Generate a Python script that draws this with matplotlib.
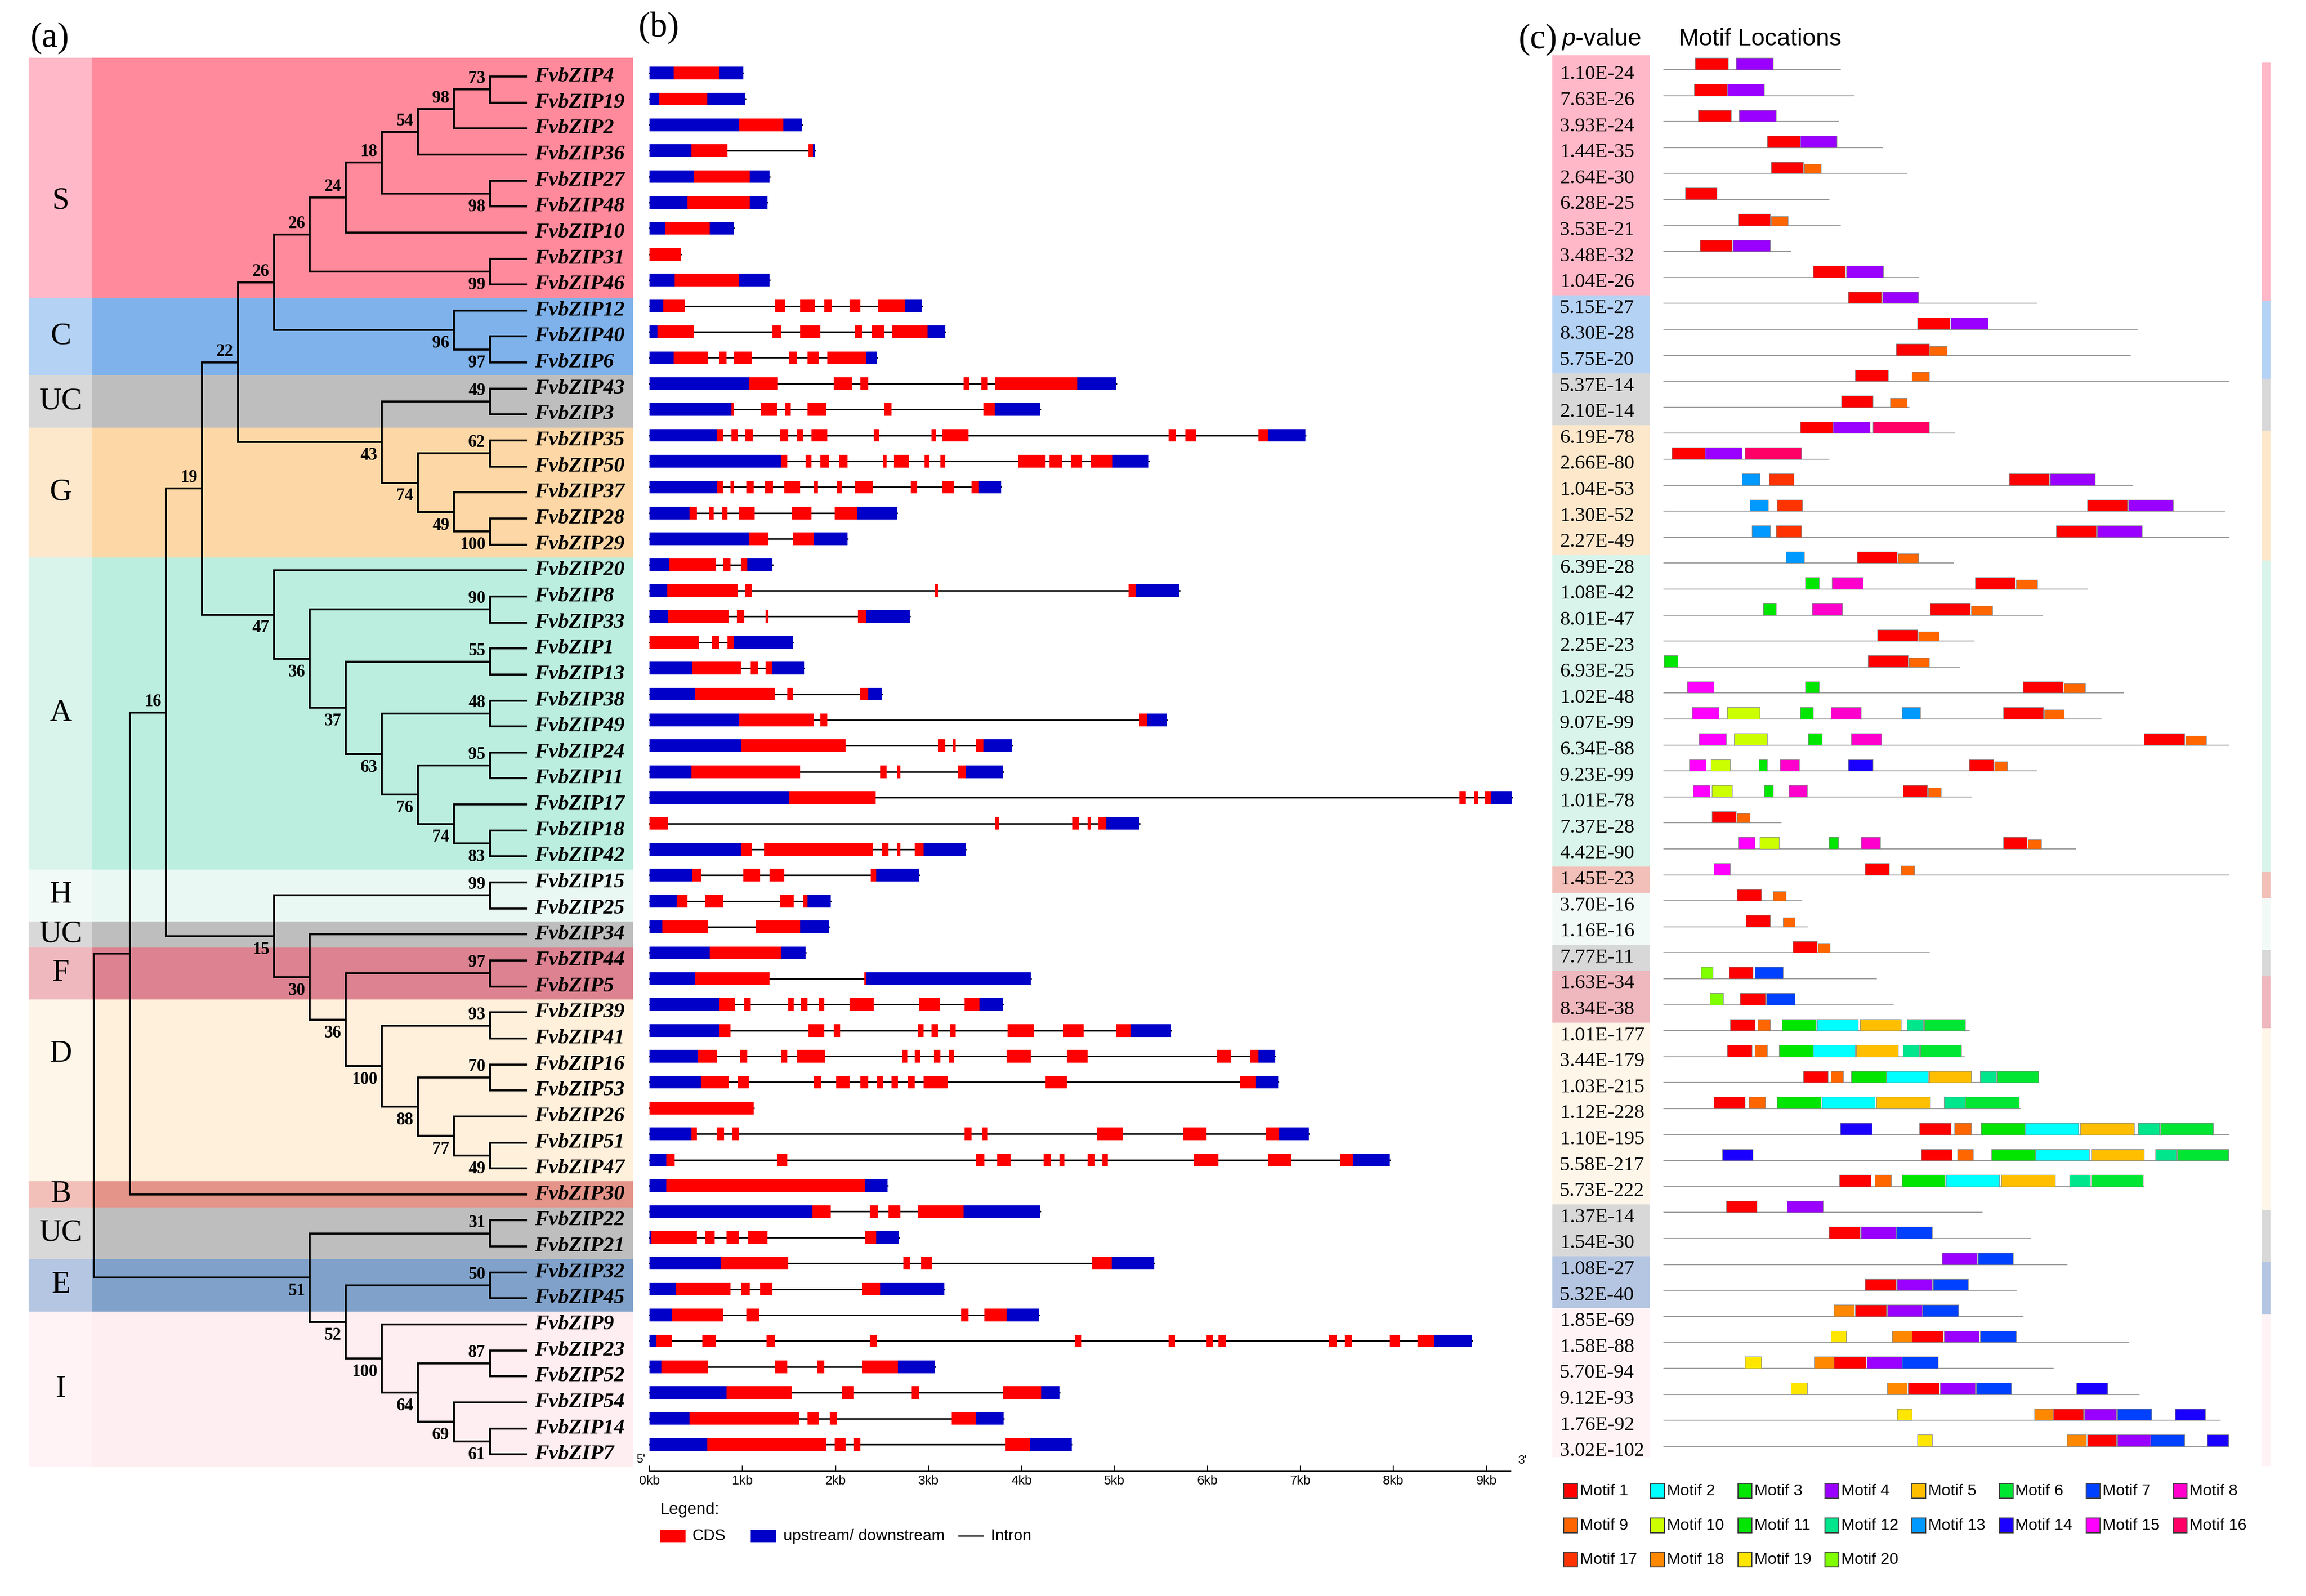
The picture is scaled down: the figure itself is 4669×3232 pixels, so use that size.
import matplotlib
matplotlib.use('Agg')
import matplotlib.pyplot as plt
from matplotlib.patches import Rectangle
from matplotlib import font_manager

# ---------------------------------------------------------------
# data
# ---------------------------------------------------------------
leaf_order = [
    'FvbZIP4', 'FvbZIP19', 'FvbZIP2', 'FvbZIP36', 'FvbZIP27', 'FvbZIP48',
    'FvbZIP10', 'FvbZIP31', 'FvbZIP46', 'FvbZIP12', 'FvbZIP40', 'FvbZIP6',
    'FvbZIP43', 'FvbZIP3', 'FvbZIP35', 'FvbZIP50', 'FvbZIP37', 'FvbZIP28',
    'FvbZIP29', 'FvbZIP20', 'FvbZIP8', 'FvbZIP33', 'FvbZIP1', 'FvbZIP13',
    'FvbZIP38', 'FvbZIP49', 'FvbZIP24', 'FvbZIP11', 'FvbZIP17', 'FvbZIP18',
    'FvbZIP42', 'FvbZIP15', 'FvbZIP25', 'FvbZIP34', 'FvbZIP44', 'FvbZIP5',
    'FvbZIP39', 'FvbZIP41', 'FvbZIP16', 'FvbZIP53', 'FvbZIP26', 'FvbZIP51',
    'FvbZIP47', 'FvbZIP30', 'FvbZIP22', 'FvbZIP21', 'FvbZIP32', 'FvbZIP45',
    'FvbZIP9', 'FvbZIP23', 'FvbZIP52', 'FvbZIP54', 'FvbZIP14', 'FvbZIP7',
]

# subfamily bands of the tree: (name, first row, last row)
tree_groups = [('S', 0, 8), ('C', 9, 11), ('UC', 12, 13), ('G', 14, 18),
               ('A', 19, 30), ('H', 31, 32), ('UC', 33, 33), ('F', 34, 35),
               ('D', 36, 42), ('B', 43, 43), ('UC', 44, 45), ('E', 46, 47),
               ('I', 48, 53)]


def clade(bs, *kids):
    return (bs, list(kids))


# tree topology with bootstrap values
n73 = clade(73, 'FvbZIP4', 'FvbZIP19')
n98a = clade(98, n73, 'FvbZIP2')
n54 = clade(54, n98a, 'FvbZIP36')
n98b = clade(98, 'FvbZIP27', 'FvbZIP48')
n18 = clade(18, n54, n98b)
n24 = clade(24, n18, 'FvbZIP10')
n99a = clade(99, 'FvbZIP31', 'FvbZIP46')
n26a = clade(26, n24, n99a)
n97a = clade(97, 'FvbZIP40', 'FvbZIP6')
n96 = clade(96, 'FvbZIP12', n97a)
n26b = clade(26, n26a, n96)
n49a = clade(49, 'FvbZIP43', 'FvbZIP3')
n62 = clade(62, 'FvbZIP35', 'FvbZIP50')
n100a = clade(100, 'FvbZIP28', 'FvbZIP29')
n49b = clade(49, 'FvbZIP37', n100a)
n74a = clade(74, n62, n49b)
n43 = clade(43, n49a, n74a)
n22 = clade(22, n26b, n43)
n83 = clade(83, 'FvbZIP18', 'FvbZIP42')
n74b = clade(74, 'FvbZIP17', n83)
n95 = clade(95, 'FvbZIP24', 'FvbZIP11')
n76 = clade(76, n95, n74b)
n48 = clade(48, 'FvbZIP38', 'FvbZIP49')
n63 = clade(63, n48, n76)
n55 = clade(55, 'FvbZIP1', 'FvbZIP13')
n37 = clade(37, n55, n63)
n90 = clade(90, 'FvbZIP8', 'FvbZIP33')
n36a = clade(36, n90, n37)
n47 = clade(47, 'FvbZIP20', n36a)
n19 = clade(19, n22, n47)
n99b = clade(99, 'FvbZIP15', 'FvbZIP25')
n97b = clade(97, 'FvbZIP44', 'FvbZIP5')
n93 = clade(93, 'FvbZIP39', 'FvbZIP41')
n70 = clade(70, 'FvbZIP16', 'FvbZIP53')
n49c = clade(49, 'FvbZIP51', 'FvbZIP47')
n77 = clade(77, 'FvbZIP26', n49c)
n88 = clade(88, n70, n77)
n100b = clade(100, n93, n88)
n36b = clade(36, n97b, n100b)
n30 = clade(30, 'FvbZIP34', n36b)
n15 = clade(15, n99b, n30)
n16 = clade(16, n19, n15)
nx = clade(None, n16, 'FvbZIP30')
n31 = clade(31, 'FvbZIP22', 'FvbZIP21')
n50 = clade(50, 'FvbZIP32', 'FvbZIP45')
n61 = clade(61, 'FvbZIP14', 'FvbZIP7')
n69 = clade(69, 'FvbZIP54', n61)
n87 = clade(87, 'FvbZIP23', 'FvbZIP52')
n64 = clade(64, n87, n69)
n100c = clade(100, 'FvbZIP9', n64)
n52 = clade(52, n50, n100c)
n51 = clade(51, n31, n52)
tree = clade(None, nx, n51)

# gene structures in kb: (start, end, kind) kind u = UTR, c = CDS
gene_structs = [
    [(0, .26, 'u'), (.26, .75, 'c'), (.75, 1.01, 'u')],
    [(0, .10, 'u'), (.10, .62, 'c'), (.62, 1.03, 'u')],
    [(0, .96, 'u'), (.96, 1.44, 'c'), (1.44, 1.64, 'u')],
    [(0, .45, 'u'), (.45, .84, 'c'), (1.71, 1.76, 'c'), (1.76, 1.78, 'u')],
    [(0, .48, 'u'), (.48, 1.08, 'c'), (1.08, 1.29, 'u')],
    [(0, .41, 'u'), (.41, 1.08, 'c'), (1.08, 1.27, 'u')],
    [(0, .17, 'u'), (.17, .65, 'c'), (.65, .91, 'u')],
    [(0, .34, 'c')],
    [(0, .27, 'u'), (.27, .96, 'c'), (.96, 1.29, 'u')],
    [(0, .15, 'u'), (.15, .38, 'c'), (1.35, 1.46, 'c'), (1.62, 1.78, 'c'),
     (1.88, 1.96, 'c'), (2.15, 2.27, 'c'), (2.46, 2.75, 'c'), (2.75, 2.93, 'u')],
    [(0, .085, 'u'), (.085, .48, 'c'), (1.32, 1.41, 'c'), (1.62, 1.84, 'c'),
     (2.21, 2.29, 'c'), (2.39, 2.52, 'c'), (2.61, 2.99, 'c'), (2.99, 3.18, 'u')],
    [(0, .26, 'u'), (.26, .63, 'c'), (.75, .83, 'c'), (.91, 1.10, 'c'),
     (1.50, 1.58, 'c'), (1.70, 1.82, 'c'), (1.91, 2.33, 'c'), (2.33, 2.45, 'u')],
    [(0, 1.07, 'u'), (1.07, 1.38, 'c'), (1.98, 2.18, 'c'), (2.27, 2.35, 'c'),
     (3.38, 3.44, 'c'), (3.57, 3.64, 'c'), (3.72, 4.60, 'c'), (4.60, 5.02, 'u')],
    [(0, .88, 'u'), (.88, .91, 'c'), (1.20, 1.37, 'c'), (1.46, 1.52, 'c'),
     (1.70, 1.90, 'c'), (2.52, 2.60, 'c'), (3.59, 3.71, 'c'), (3.71, 4.20, 'u')],
    [(0, .72, 'u'), (.72, .79, 'c'), (.88, .95, 'c'), (1.03, 1.11, 'c'),
     (1.40, 1.49, 'c'), (1.59, 1.65, 'c'), (1.74, 1.91, 'c'), (2.41, 2.47, 'c'),
     (3.03, 3.08, 'c'), (3.15, 3.43, 'c'), (5.58, 5.66, 'c'), (5.76, 5.88, 'c'),
     (6.55, 6.65, 'c'), (6.65, 7.05, 'u')],
    [(0, 1.41, 'u'), (1.41, 1.48, 'c'), (1.68, 1.74, 'c'), (1.84, 1.93, 'c'),
     (2.04, 2.13, 'c'), (2.51, 2.55, 'c'), (2.63, 2.79, 'c'), (2.96, 3.01, 'c'),
     (3.13, 3.18, 'c'), (3.96, 4.26, 'c'), (4.30, 4.44, 'c'), (4.53, 4.65, 'c'),
     (4.75, 4.98, 'c'), (4.98, 5.37, 'u')],
    [(0, .73, 'u'), (.73, .79, 'c'), (.87, .91, 'c'), (1.04, 1.12, 'c'),
     (1.24, 1.33, 'c'), (1.45, 1.62, 'c'), (1.77, 1.81, 'c'), (2.02, 2.07, 'c'),
     (2.21, 2.40, 'c'), (2.81, 2.88, 'c'), (3.15, 3.27, 'c'), (3.46, 3.54, 'c'),
     (3.54, 3.78, 'u')],
    [(0, .43, 'u'), (.43, .51, 'c'), (.64, .69, 'c'), (.78, .84, 'c'),
     (.96, 1.13, 'c'), (1.53, 1.74, 'c'), (1.99, 2.23, 'c'), (2.23, 2.66, 'u')],
    [(0, 1.07, 'u'), (1.07, 1.28, 'c'), (1.54, 1.77, 'c'), (1.77, 2.13, 'u')],
    [(0, .21, 'u'), (.21, .71, 'c'), (.79, .87, 'c'), (.98, 1.05, 'c'), (1.05, 1.32, 'u')],
    [(0, .19, 'u'), (.19, .95, 'c'), (1.03, 1.10, 'c'), (3.07, 3.10, 'c'),
     (5.15, 5.23, 'c'), (5.23, 5.70, 'u')],
    [(0, .20, 'u'), (.20, .85, 'c'), (.94, 1.02, 'c'), (1.25, 1.28, 'c'),
     (2.24, 2.33, 'c'), (2.33, 2.80, 'u')],
    [(0, .53, 'c'), (.67, .75, 'c'), (.84, .91, 'c'), (.91, 1.54, 'u')],
    [(0, .46, 'u'), (.46, .98, 'c'), (1.09, 1.17, 'c'), (1.25, 1.32, 'c'), (1.32, 1.66, 'u')],
    [(0, .49, 'u'), (.49, 1.35, 'c'), (1.48, 1.54, 'c'), (2.26, 2.35, 'c'), (2.35, 2.50, 'u')],
    [(0, .96, 'u'), (.96, 1.77, 'c'), (1.84, 1.91, 'c'), (5.27, 5.35, 'c'), (5.35, 5.56, 'u')],
    [(0, .99, 'u'), (.99, 2.11, 'c'), (3.10, 3.18, 'c'), (3.26, 3.29, 'c'),
     (3.51, 3.59, 'c'), (3.59, 3.90, 'u')],
    [(0, .45, 'u'), (.45, 1.62, 'c'), (2.48, 2.55, 'c'), (2.66, 2.70, 'c'),
     (3.32, 3.40, 'c'), (3.40, 3.80, 'u')],
    [(0, 1.50, 'u'), (1.50, 2.43, 'c'), (8.71, 8.78, 'c'), (8.87, 8.91, 'c'),
     (8.98, 9.05, 'c'), (9.05, 9.27, 'u')],
    [(0, .20, 'c'), (3.72, 3.76, 'c'), (4.55, 4.62, 'c'), (4.71, 4.74, 'c'),
     (4.83, 4.91, 'c'), (4.91, 5.27, 'u')],
    [(0, .98, 'u'), (.98, 1.10, 'c'), (1.23, 2.40, 'c'), (2.50, 2.57, 'c'),
     (2.66, 2.70, 'c'), (2.85, 2.95, 'c'), (2.95, 3.40, 'u')],
    [(0, .46, 'u'), (.46, .56, 'c'), (1.01, 1.19, 'c'), (1.29, 1.45, 'c'),
     (2.38, 2.44, 'c'), (2.44, 2.90, 'u')],
    [(0, .29, 'u'), (.29, .41, 'c'), (.60, .79, 'c'), (1.40, 1.55, 'c'),
     (1.65, 1.70, 'c'), (1.70, 1.95, 'u')],
    [(0, .14, 'u'), (.14, .63, 'c'), (1.14, 1.62, 'c'), (1.62, 1.93, 'u')],
    [(0, .65, 'u'), (.65, 1.41, 'c'), (1.41, 1.68, 'u')],
    [(0, .49, 'u'), (.49, 1.29, 'c'), (2.31, 2.33, 'c'), (2.33, 4.10, 'u')],
    [(0, .75, 'u'), (.75, .92, 'c'), (1.02, 1.09, 'c'), (1.49, 1.55, 'c'),
     (1.63, 1.70, 'c'), (1.82, 1.88, 'c'), (2.15, 2.41, 'c'), (2.90, 3.12, 'c'),
     (3.39, 3.55, 'c'), (3.55, 3.80, 'u')],
    [(0, .75, 'u'), (.75, .87, 'c'), (1.71, 1.88, 'c'), (1.98, 2.05, 'c'),
     (2.89, 2.95, 'c'), (3.03, 3.10, 'c'), (3.23, 3.29, 'c'), (3.85, 4.13, 'c'),
     (4.45, 4.67, 'c'), (5.02, 5.18, 'c'), (5.18, 5.61, 'u')],
    [(0, .52, 'u'), (.52, .73, 'c'), (.97, 1.05, 'c'), (1.41, 1.48, 'c'),
     (1.59, 1.89, 'c'), (2.72, 2.77, 'c'), (2.85, 2.91, 'c'), (3.06, 3.13, 'c'),
     (3.22, 3.27, 'c'), (3.84, 4.10, 'c'), (4.49, 4.71, 'c'), (6.10, 6.25, 'c'),
     (6.46, 6.55, 'c'), (6.55, 6.73, 'u')],
    [(0, .55, 'u'), (.55, .85, 'c'), (.95, 1.07, 'c'), (1.77, 1.85, 'c'),
     (2.01, 2.15, 'c'), (2.27, 2.35, 'c'), (2.45, 2.51, 'c'), (2.60, 2.67, 'c'),
     (2.78, 2.85, 'c'), (2.95, 3.21, 'c'), (4.26, 4.49, 'c'), (6.35, 6.52, 'c'),
     (6.52, 6.76, 'u')],
    [(0, 1.12, 'c')],
    [(0, .45, 'u'), (.45, .51, 'c'), (.72, .80, 'c'), (.89, .96, 'c'),
     (3.39, 3.46, 'c'), (3.58, 3.64, 'c'), (4.81, 5.09, 'c'), (5.74, 5.99, 'c'),
     (6.63, 6.77, 'c'), (6.77, 7.09, 'u')],
    [(0, .18, 'u'), (.18, .27, 'c'), (1.37, 1.48, 'c'), (3.51, 3.60, 'c'),
     (3.74, 3.88, 'c'), (4.24, 4.32, 'c'), (4.41, 4.46, 'c'), (4.71, 4.79, 'c'),
     (4.87, 4.93, 'c'), (5.85, 6.12, 'c'), (6.65, 6.90, 'c'), (7.43, 7.57, 'c'),
     (7.57, 7.96, 'u')],
    [(0, .18, 'u'), (.18, 2.32, 'c'), (2.32, 2.56, 'u')],
    [(0, 1.75, 'u'), (1.75, 1.95, 'c'), (2.37, 2.46, 'c'), (2.57, 2.70, 'c'),
     (2.89, 3.38, 'c'), (3.38, 4.20, 'u')],
    [(0, .02, 'u'), (.02, .51, 'c'), (.60, .70, 'c'), (.83, .96, 'c'),
     (1.06, 1.27, 'c'), (2.32, 2.44, 'c'), (2.44, 2.68, 'u')],
    [(0, .77, 'u'), (.77, 1.49, 'c'), (2.73, 2.80, 'c'), (2.92, 3.04, 'c'),
     (4.76, 4.97, 'c'), (4.97, 5.43, 'u')],
    [(0, .28, 'u'), (.28, .87, 'c'), (.99, 1.08, 'c'), (1.19, 1.32, 'c'),
     (2.29, 2.48, 'c'), (2.48, 3.17, 'u')],
    [(0, .24, 'u'), (.24, .79, 'c'), (1.04, 1.18, 'c'), (3.35, 3.43, 'c'),
     (3.60, 3.84, 'c'), (3.84, 4.19, 'u')],
    [(0, .07, 'u'), (.07, .24, 'c'), (.57, .71, 'c'), (1.26, 1.35, 'c'),
     (2.37, 2.45, 'c'), (4.57, 4.64, 'c'), (5.58, 5.65, 'c'), (5.99, 6.06, 'c'),
     (6.12, 6.20, 'c'), (7.31, 7.39, 'c'), (7.48, 7.55, 'c'), (7.96, 8.07, 'c'),
     (8.26, 8.44, 'c'), (8.44, 8.84, 'u')],
    [(0, .13, 'u'), (.13, .63, 'c'), (1.35, 1.48, 'c'), (1.80, 1.88, 'c'),
     (2.29, 2.67, 'c'), (2.67, 3.07, 'u')],
    [(0, .83, 'u'), (.83, 1.53, 'c'), (2.07, 2.20, 'c'), (2.82, 2.90, 'c'),
     (3.80, 4.21, 'c'), (4.21, 4.41, 'u')],
    [(0, .43, 'u'), (.43, 1.61, 'c'), (1.70, 1.82, 'c'), (1.94, 2.02, 'c'),
     (3.25, 3.51, 'c'), (3.51, 3.81, 'u')],
    [(0, .62, 'u'), (.62, 1.90, 'c'), (1.99, 2.11, 'c'), (2.20, 2.27, 'c'),
     (3.83, 4.09, 'c'), (4.09, 4.54, 'u')],
]

kb_ticks = list(range(10))

# motif panel
pvalues = [
    '1.10E-24', '7.63E-26', '3.93E-24', '1.44E-35', '2.64E-30', '6.28E-25',
    '3.53E-21', '3.48E-32', '1.04E-26', '5.15E-27', '8.30E-28', '5.75E-20',
    '5.37E-14', '2.10E-14', '6.19E-78', '2.66E-80', '1.04E-53', '1.30E-52',
    '2.27E-49', '6.39E-28', '1.08E-42', '8.01E-47', '2.25E-23', '6.93E-25',
    '1.02E-48', '9.07E-99', '6.34E-88', '9.23E-99', '1.01E-78', '7.37E-28',
    '4.42E-90', '1.45E-23', '3.70E-16', '1.16E-16', '7.77E-11', '1.63E-34',
    '8.34E-38', '1.01E-177', '3.44E-179', '1.03E-215', '1.12E-228', '1.10E-195',
    '5.58E-217', '5.73E-222', '1.37E-14', '1.54E-30', '1.08E-27', '5.32E-40',
    '1.85E-69', '1.58E-88', '5.70E-94', '9.12E-93', '1.76E-92', '3.02E-102',
]
motif_groups = (['S'] * 9 + ['C'] * 3 + ['UC'] * 2 + ['G'] * 5 + ['A'] * 12 +
                ['B'] + ['H'] * 2 + ['UC'] + ['F'] * 2 + ['D'] * 7 +
                ['UC'] * 2 + ['E'] * 2 + ['I'] * 6)
protein_len = [176, 190, 174, 218, 243, 165, 176, 127, 254, 372, 473, 466,
               564, 245, 290, 165, 468, 560, 564, 289, 423, 378, 310, 295,
               459, 437, 564, 372, 307, 117, 411, 564, 137, 143, 265, 212,
               229, 305, 300, 374, 356, 564, 564, 480, 318, 366, 403, 352,
               359, 464, 389, 475, 556, 564]
# (motif number, start aa, end aa)
motif_hits = [
    [(1, 31, 64), (4, 72, 109)],
    [(1, 30, 63), (4, 63, 100)],
    [(1, 34, 67), (4, 75, 112)],
    [(1, 103, 136), (4, 136, 173)],
    [(1, 107, 139), (9, 140, 157)],
    [(1, 21, 53)],
    [(1, 74, 106), (9, 107, 124)],
    [(1, 36, 68), (4, 69, 106)],
    [(1, 149, 181), (4, 182, 219)],
    [(1, 184, 217), (4, 218, 254)],
    [(1, 253, 286), (4, 287, 324)],
    [(1, 232, 265), (9, 265, 283)],
    [(1, 191, 224), (9, 248, 265)],
    [(1, 177, 209), (9, 226, 243)],
    [(1, 136, 169), (4, 169, 206), (16, 209, 265)],
    [(1, 8, 41), (4, 41, 78), (16, 81, 137)],
    [(13, 78, 96), (17, 105, 130), (1, 345, 385), (4, 386, 431)],
    [(13, 86, 104), (17, 113, 138), (1, 423, 463), (4, 464, 509)],
    [(13, 88, 106), (17, 112, 137), (1, 392, 432), (4, 433, 478)],
    [(13, 122, 140), (1, 193, 233), (9, 234, 254)],
    [(11, 141, 155), (8, 168, 199), (1, 311, 351), (9, 352, 373)],
    [(11, 99, 112), (8, 148, 178), (1, 266, 306), (9, 307, 328)],
    [(1, 213, 253), (9, 254, 275)],
    [(11, 0, 14), (1, 204, 244), (9, 245, 265)],
    [(15, 23, 50), (11, 141, 155), (1, 359, 399), (9, 400, 421)],
    [(15, 28, 55), (10, 63, 96), (11, 136, 149), (8, 167, 197), (13, 238, 256),
     (1, 339, 379), (9, 380, 400)],
    [(15, 35, 62), (10, 70, 103), (11, 144, 158), (8, 187, 217), (1, 480, 520),
     (9, 521, 542)],
    [(15, 25, 42), (10, 47, 66), (11, 95, 103), (8, 116, 135), (14, 184, 209),
     (1, 305, 329), (9, 330, 343)],
    [(15, 29, 46), (10, 48, 68), (11, 100, 109), (8, 125, 143), (1, 239, 263),
     (9, 264, 277)],
    [(1, 48, 72), (9, 73, 86)],
    [(15, 74, 91), (10, 96, 115), (11, 165, 174), (8, 197, 216), (1, 339, 363),
     (9, 364, 377)],
    [(15, 50, 66), (1, 201, 225), (9, 237, 250)],
    [(1, 73, 97), (9, 109, 122)],
    [(1, 82, 106), (9, 119, 131)],
    [(1, 129, 153), (9, 154, 166)],
    [(20, 37, 49), (1, 65, 89), (7, 91, 119)],
    [(20, 46, 59), (1, 76, 101), (7, 102, 131)],
    [(1, 66, 91), (9, 94, 106), (3, 118, 152), (2, 153, 194), (5, 196, 237),
     (12, 243, 259), (6, 260, 301)],
    [(1, 63, 88), (9, 91, 103), (3, 115, 149), (2, 149, 191), (5, 192, 234),
     (12, 239, 255), (6, 256, 297)],
    [(1, 139, 164), (9, 167, 179), (3, 187, 222), (2, 222, 264), (5, 265, 307),
     (12, 316, 332), (6, 333, 374)],
    [(1, 50, 81), (9, 85, 101), (3, 113, 157), (2, 158, 211), (5, 212, 266),
     (12, 280, 301), (6, 301, 355)],
    [(14, 176, 208), (1, 255, 287), (9, 290, 307), (3, 317, 361), (2, 361, 414),
     (5, 416, 470), (12, 474, 495), (6, 496, 549)],
    [(14, 58, 89), (1, 257, 288), (9, 293, 309), (3, 327, 371), (2, 371, 425),
     (5, 427, 480), (12, 491, 512), (6, 513, 564)],
    [(1, 175, 207), (9, 211, 227), (3, 238, 281), (2, 282, 335), (5, 337, 391),
     (12, 405, 426), (6, 427, 479)],
    [(1, 62, 93), (4, 123, 159)],
    [(1, 165, 196), (4, 197, 232), (7, 232, 268)],
    [(4, 278, 313), (7, 314, 349)],
    [(1, 201, 232), (4, 233, 268), (7, 269, 304)],
    [(18, 170, 190), (1, 191, 222), (4, 223, 258), (7, 258, 294)],
    [(19, 167, 182), (18, 228, 248), (1, 248, 279), (4, 280, 315), (7, 316, 352)],
    [(19, 81, 97), (18, 150, 170), (1, 170, 202), (4, 203, 238), (7, 238, 274)],
    [(19, 127, 143), (18, 223, 243), (1, 244, 275), (4, 276, 311), (7, 312, 347),
     (14, 412, 443)],
    [(19, 233, 248), (18, 370, 389), (1, 389, 419), (4, 420, 452), (7, 453, 487),
     (14, 511, 541)],
    [(19, 253, 268), (18, 403, 422), (1, 423, 452), (4, 453, 486), (7, 486, 520),
     (14, 543, 564)],
]
motif_names = ['Motif %d' % k for k in range(1, 21)]

assert len(gene_structs) == 54 and len(pvalues) == 54
assert len(motif_groups) == 54 and len(protein_len) == 54 and len(motif_hits) == 54

# ---------------------------------------------------------------
# styles
# ---------------------------------------------------------------
band_main = {'S': '#FF8A9B', 'C': '#7FB2EA', 'UC': '#BEBEBE', 'G': '#FDD8A6',
             'A': '#BBEEDF', 'H': '#EAF8F4', 'F': '#DC8290', 'D': '#FFF0DC',
             'B': '#E49488', 'E': '#80A2CA', 'I': '#FFEEF1'}
band_light = {'S': '#FFB8C7', 'C': '#B4D2F4', 'UC': '#D8D8D8', 'G': '#FDE8CC',
              'A': '#D9F4EB', 'H': '#F2FAF8', 'F': '#EEB8BE', 'D': '#FFF6EA',
              'B': '#F2C0B8', 'E': '#B4C6E2', 'I': '#FFF3F5'}
label_nudge = {'S': 0.8, 'D': -1.4}
motif_colors = ['#FF0000', '#00FFFF', '#00E600', '#9900FF', '#FFBF00',
                '#00E632', '#0040FF', '#FF00CC', '#FF6600', '#CCFF00',
                '#00E600', '#00E68C', '#0099FF', '#1A00FF', '#FF00FF',
                '#FF0066', '#FF3300', '#FF8800', '#FFE600', '#80FF00']
CDS_RED = '#FF0000'
UTR_BLUE = '#0000C8'

names = {f.name for f in font_manager.fontManager.ttflist}
SERIF = 'Liberation Serif'
NARROW = 'Liberation Sans Narrow' if 'Liberation Sans Narrow' in names else 'Liberation Sans'
NSCALE = 1.0 if NARROW == 'Liberation Sans Narrow' else 0.84

plt.rcParams['mathtext.fontset'] = 'custom'
plt.rcParams['mathtext.it'] = NARROW + ':italic'
plt.rcParams['mathtext.rm'] = NARROW

W, H, DPI = 4669, 3232, 300
fig = plt.figure(figsize=(W / DPI, H / DPI), dpi=DPI)


def px_axes(x0, y0, x1, y1):
    return fig.add_axes([x0 / W, 1 - y1 / H, (x1 - x0) / W, (y1 - y0) / H])


def ftext(x, y, s, **kw):
    fig.text(x / W, 1 - y / H, s, **kw)


# ---------------------------------------------------------------
# (a) tree
# ---------------------------------------------------------------
ax_a = px_axes(58, 117, 1282, 2970)
ax_a.set_xlim(13.81, -2.977)
ax_a.set_ylim(53.47, -0.722)
ax_a.axis('off')
LABEL_EDGE = 12.04

for k, (g, r0, r1) in enumerate(tree_groups):
    top = -0.722 if k == 0 else r0 - 0.5
    bot = r1 + 0.5
    ax_a.add_patch(Rectangle((LABEL_EDGE, top), 13.81 - LABEL_EDGE, bot - top,
                             color=band_light[g], lw=0, zorder=0))
    ax_a.add_patch(Rectangle((-2.977, top), LABEL_EDGE + 2.977, bot - top,
                             color=band_main[g], lw=0, zorder=0))
    ax_a.text(12.92, (r0 + r1) / 2 + label_nudge.get(g, 0), g, ha='center',
              va='center', family=SERIF, fontsize=15)

nodes = []


def place(node):
    if isinstance(node, str):
        return 0, leaf_order.index(node)
    pts = [place(k) for k in node[1]]
    h = 1 + max(p[0] for p in pts)
    y = (pts[0][1] + pts[-1][1]) / 2
    nodes.append((h, node[1], pts))
    return h, y


place(tree)
LW = 0.95
for h, kids, pts in nodes:
    ax_a.plot([h, h], [pts[0][1], pts[-1][1]], color='black', lw=LW,
              solid_capstyle='projecting', zorder=2)
    for j, (kid, (hc, yc)) in enumerate(zip(kids, pts)):
        ax_a.plot([h, hc], [yc, yc], color='black', lw=LW,
                  solid_capstyle='projecting', zorder=2)
        if not isinstance(kid, str) and kid[0] is not None:
            upper = (j == 0)
            ax_a.annotate(str(kid[0]), (hc, yc),
                          xytext=(-2.2, 1.2 if upper else -2.6),
                          textcoords='offset points', ha='right',
                          va='bottom' if upper else 'top', family=SERIF,
                          fontweight='bold', fontsize=8.3, zorder=3)

for i, name in enumerate(leaf_order):
    ax_a.text(-0.23, i, name, ha='left', va='center', family=SERIF,
              fontweight='bold', fontstyle='italic', fontsize=10.4, zorder=3)

# ---------------------------------------------------------------
# (b) gene structure
# ---------------------------------------------------------------
ax_b = px_axes(1290, 110, 3058, 2979)
ax_b.set_xlim(-0.1328, 9.2565)
ax_b.set_ylim(54.03, -0.725)
ax_b.patch.set_visible(False)
for s in ('top', 'left', 'right'):
    ax_b.spines[s].set_visible(False)
ax_b.spines['bottom'].set_bounds(0, 9.2565)
ax_b.spines['bottom'].set_linewidth(0.6)
ax_b.set_yticks([])
ax_b.set_xticks(kb_ticks)
ax_b.set_xticklabels(['%dkb' % k for k in kb_ticks], family=NARROW,
                     fontsize=7.5 * NSCALE)
ax_b.tick_params(axis='x', direction='in', length=2.6, width=0.5, pad=2)

BOX = 0.49
for i, segs in enumerate(gene_structs):
    total = max(e for _, e, _ in segs)
    ax_b.plot([0, total], [i, i], color='black', lw=0.7, zorder=1,
              clip_on=False)
    for s0, s1, kind in segs:
        ax_b.add_patch(Rectangle((s0, i - BOX / 2), s1 - s0, BOX,
                                 color=CDS_RED if kind == 'c' else UTR_BLUE,
                                 lw=0, zorder=2, clip_on=False))

ftext(1306, 2956, "5'", ha='right', va='center', family=NARROW, fontsize=7 * NSCALE)
ftext(3073, 2958, "3'", ha='left', va='center', family=NARROW, fontsize=7 * NSCALE)

# legend for (b)
ax_lb = px_axes(1300, 3030, 2200, 3140)
ax_lb.set_xlim(1300, 2200)
ax_lb.set_ylim(3140, 3030)
ax_lb.axis('off')
ax_lb.text(1336, 3057, 'Legend:', ha='left', va='center', family=NARROW,
           fontsize=9.5 * NSCALE)
ax_lb.add_patch(Rectangle((1336, 3098), 52, 25, color=CDS_RED, lw=0))
ax_lb.text(1401, 3111, 'CDS', ha='left', va='center', family=NARROW,
           fontsize=9.2 * NSCALE)
ax_lb.add_patch(Rectangle((1520, 3098), 51, 25, color=UTR_BLUE, lw=0))
ax_lb.text(1586, 3111, 'upstream/ downstream', ha='left', va='center',
           family=NARROW, fontsize=9.2 * NSCALE)
ax_lb.plot([1941, 1990], [3110, 3110], color='black', lw=0.6)
ax_lb.text(2006, 3111, 'Intron', ha='left', va='center', family=NARROW,
           fontsize=9.2 * NSCALE)

# ---------------------------------------------------------------
# (c) motifs
# ---------------------------------------------------------------
AA = 2.026          # pixels per residue
X0 = 3369           # pixel of residue 0


def aa(p):
    return (p - X0) / AA


ax_c = px_axes(3100, 100, 4620, 2980)
ax_c.set_xlim(aa(3100), aa(4620))
ax_c.set_ylim((2980 - 141) / 52.6, (100 - 141) / 52.6)
ax_c.axis('off')

n = len(pvalues)
for i, g in enumerate(motif_groups):
    top = -0.55 if i == 0 else i - 0.31
    bot = min(i + 0.69, 53.42)
    ax_c.add_patch(Rectangle((aa(3143), top), aa(3340) - aa(3143), bot - top,
                             color=band_light[g], lw=0, zorder=0))
    stop = -0.27 if i == 0 else i - 0.1
    sbot = 53.76 if i == n - 1 else i + 0.9
    ax_c.add_patch(Rectangle((aa(4579), stop), aa(4597) - aa(4579), sbot - stop,
                             color=band_light[g], lw=0, zorder=0))
    ax_c.text(aa(3158), i + 0.19, pvalues[i], ha='left', va='center',
              family=SERIF, fontsize=9.8)

MB = 0.45
for i, hits in enumerate(motif_hits):
    ax_c.plot([0, protein_len[i]], [i, i], color='#A0A0A0', lw=0.5, zorder=1)
    for m, s0, s1 in hits:
        hgt = MB * 0.8 if m == 9 and i < 37 else MB
        ax_c.add_patch(Rectangle((s0, i - hgt), s1 - s0, hgt,
                                 facecolor=motif_colors[m - 1],
                                 edgecolor='#909090', lw=0.25, zorder=2))

ftext(3075, 80, '(c)', ha='left', va='center', family=SERIF, fontsize=17)
ftext(3161, 80, r'$p$-value', ha='left', va='center', family=NARROW,
      fontsize=14 * NSCALE)
ftext(3399, 80, 'Motif Locations', ha='left', va='center', family=NARROW,
      fontsize=14 * NSCALE)

# motif legend
ax_lc = px_axes(3100, 2980, 4669, 3232)
ax_lc.set_xlim(3100, 4669)
ax_lc.set_ylim(3232, 2980)
ax_lc.axis('off')
for k, name in enumerate(motif_names):
    col, row = k % 8, k // 8
    x = 3166 + col * 176.3
    y = 3019 + row * 69.5
    ax_lc.add_patch(Rectangle((x, y - 15), 28, 30, facecolor=motif_colors[k],
                              edgecolor='#404040', lw=0.5))
    ax_lc.text(x + 33, y + 1, name, ha='left', va='center', family=NARROW,
               fontsize=9.3 * NSCALE)

# panel tags
ftext(62, 77, '(a)', ha='left', va='center', family=SERIF, fontsize=17)
ftext(1293, 56, '(b)', ha='left', va='center', family=SERIF, fontsize=17)

fig.savefig('out.png', dpi=DPI)
